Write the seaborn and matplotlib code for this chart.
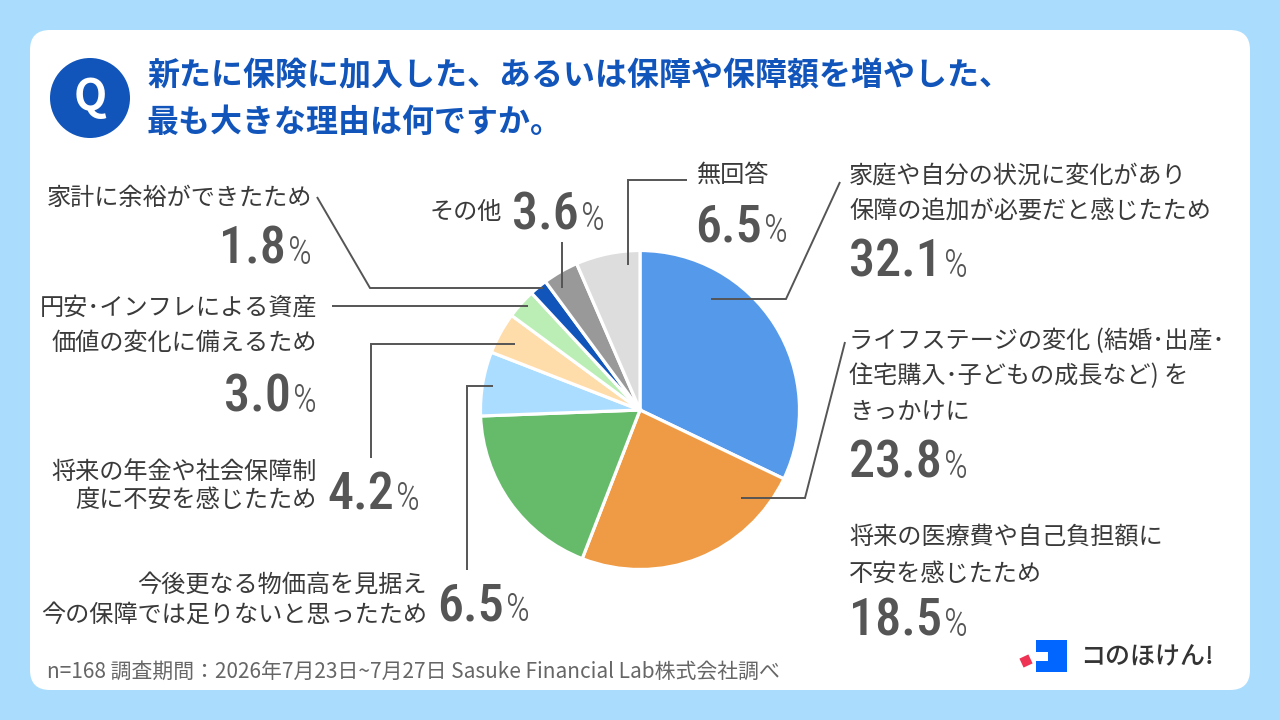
import matplotlib
matplotlib.use("Agg")
import matplotlib.pyplot as plt
import seaborn as sns
import numpy as np
import pandas as pd
from matplotlib import font_manager
from matplotlib.patches import FancyBboxPatch, Circle, Rectangle, RegularPolygon

# ---------------- data ----------------
categories = [
    "家庭や自分の状況に変化があり\n保障の追加が必要だと感じたため",
    "ライフステージの変化（結婚・出産・\n住宅購入・子どもの成長など）を\nきっかけに",
    "将来の医療費や自己負担額に\n不安を感じたため",
    "今後更なる物価高を見据え\n今の保障では足りないと思ったため",
    "将来の年金や社会保障制\n度に不安を感じたため",
    "円安・インフレによる資産\n価値の変化に備えるため",
    "家計に余裕ができたため",
    "その他",
    "無回答",
]
values = [32.1, 23.8, 18.5, 6.5, 4.2, 3.0, 1.8, 3.6, 6.5]
slice_colors = ["#5599EA", "#EF9B45", "#66BB6A", "#AADDFF", "#FFDDAA",
                "#BBEEB5", "#1155BB", "#999999", "#DDDDDD"]
title_lines = ["新たに保険に加入した、あるいは保障や保障額を増やした、",
               "最も大きな理由は何ですか。"]
footer = "n=168 調査期間：2026年7月23日~7月27日 Sasuke Financial Lab株式会社調べ"
brand = "コのほけん!"

df = pd.DataFrame({"category": categories, "value": values})

# ---------------- style ----------------
sns.set_theme(style="white")
JP = ["Noto Sans CJK JP", "DejaVu Sans"]
plt.rcParams["font.family"] = JP
avail = {f.name for f in font_manager.fontManager.ttflist}
NUM_FONT = next((f for f in ["Roboto Condensed", "Liberation Sans Narrow", "Roboto", "DejaVu Sans"]
                 if f in avail), "DejaVu Sans")

W, H = 1280, 720
BG = "#AADDFD"
TXT = "#3A3A3A"
NUMC = "#555555"
LINEC = "#555555"
BLUE = "#1155BB"

fig = plt.figure(figsize=(W / 100, H / 100), dpi=100, facecolor=BG)

bg = fig.add_axes([0, 0, 1, 1])
bg.set_xlim(0, W); bg.set_ylim(H, 0); bg.axis("off")
bg.add_patch(FancyBboxPatch((30, 30), 1220, 660, boxstyle="round,pad=0,rounding_size=20",
                            fc="white", ec="none"))

# pie
cx, cy, R = 640, 410, 159.5
pax = fig.add_axes([(cx - R) / W, 1 - (cy + R) / H, 2 * R / W, 2 * R / H])
pal = sns.color_palette(slice_colors)
pax.pie(df["value"], colors=pal, startangle=90, counterclock=False, radius=1,
        wedgeprops=dict(edgecolor="white", linewidth=2.3))
pax.set_xlim(-1, 1); pax.set_ylim(-1, 1); pax.set_aspect("equal"); pax.axis("off")

ov = fig.add_axes([0, 0, 1, 1])
ov.set_xlim(0, W); ov.set_ylim(H, 0); ov.axis("off"); ov.patch.set_alpha(0)

fig.canvas.draw()
renderer = fig.canvas.get_renderer()


def width_px(t):
    return t.get_window_extent(renderer).width


# header
ov.add_patch(Circle((90, 98), 40, fc=BLUE, ec="none"))
ov.text(90, 97, "Q", ha="center", va="center", color="white", fontsize=31,
        fontweight="bold", family=JP)
for i, line in enumerate(title_lines):
    ov.text(147, 76 + 47 * i, line, ha="left", va="center", color=BLUE, fontsize=23,
            fontweight="bold", family=JP)

# proportional (half-width) forms of punctuation, as typeset in the reference
NARROW = str.maketrans({"・": "･", "（": " (", "）": ") "})

# layout for labels: (x, first line y, pitch, ha, num x, num y, num align)
layout = [
    (849, 176, 36, "left", 849, 258, "left"),
    (849, 341, 35.5, "left", 849, 459, "left"),
    (849, 537, 37, "left", 849, 617, "left"),
    (427, 585, 30, "right", 437, 602, "left"),
    (317, 472, 28, "right", 327, 491, "left"),
    (317, 308, 35, "right", 317, 393, "right"),
    (312, 198, 0, "right", 312, 245, "right"),
    (502, 212, 0, "right", 512, 211, "left"),
    (697, 175, 0, "left", 695, 223, "left"),
]
leaders = [
    [(711, 299), (786, 299), (840, 182)],
    [(741, 498), (805, 498), (845, 342)],
    None,
    [(493, 386), (467, 386), (467, 570)],
    [(515, 344), (371, 344), (371, 458)],
    [(528, 306), (332, 306)],
    [(543, 288), (370, 288), (317, 197)],
    [(562, 288), (562, 242)],
    [(628, 265), (628, 180), (687, 180)],
]

NUM_SIZE = 37.5
PCT_SIZE = 27
CAP = 0.711 * NUM_SIZE * 100 / 72
GAP = 2


def pct_label(x, y, value, align):
    base = y + CAP / 2
    kw = dict(family=[NUM_FONT, "DejaVu Sans"], color=NUMC, va="baseline")
    if align == "left":
        t = ov.text(x, base, f"{value:.1f}", ha="left", fontsize=NUM_SIZE, fontweight="medium", **kw)
        w = width_px(t)
        ov.text(x + w + GAP, base, "%", ha="left", fontsize=PCT_SIZE, fontweight="light", **kw)
    else:
        p = ov.text(x, base, "%", ha="right", fontsize=PCT_SIZE, fontweight="light", **kw)
        w = width_px(p)
        ov.text(x - w - GAP, base, f"{value:.1f}", ha="right", fontsize=NUM_SIZE, fontweight="medium", **kw)


for cat, val, lay, ld in zip(df["category"], df["value"], layout, leaders):
    x, y0, pitch, ha, nx, ny, nal = lay
    for j, line in enumerate(cat.split("\n")):
        ov.text(x, y0 + pitch * j, line.translate(NARROW).strip(), ha=ha, va="center",
                color=TXT, fontsize=17.4, family=JP)
    pct_label(nx, ny, val, nal)
    if ld:
        xs, ys = zip(*ld)
        ov.plot(xs, ys, color=LINEC, lw=1.4, solid_joinstyle="miter", solid_capstyle="butt")

# footer
ov.text(47, 672, footer, ha="left", va="center", color="#666666", fontsize=15, family=JP)

# brand logo
ov.add_patch(Rectangle((1036, 640), 31, 32, fc="#0066FF", ec="none"))
ov.add_patch(Rectangle((1036, 652), 12, 9, fc="white", ec="none"))
ov.add_patch(RegularPolygon((1026, 661), 4, radius=7, orientation=np.deg2rad(20),
                            fc="#EE3355", ec="none"))
ov.text(1080, 657, brand, ha="left", va="center", color="#333333", fontsize=18,
        fontweight="medium", family=JP)

fig.savefig("out.png", dpi=100, facecolor=BG)
